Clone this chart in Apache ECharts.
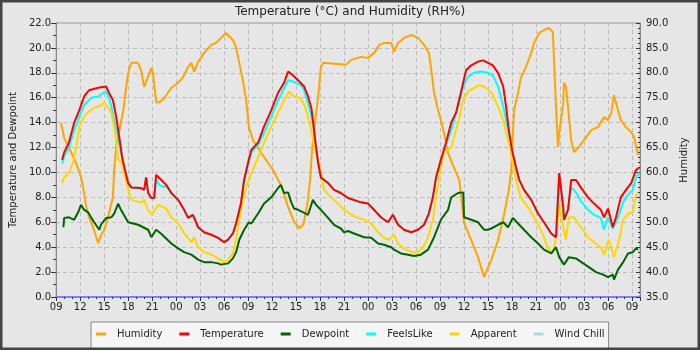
<!DOCTYPE html>
<html><head><meta charset="utf-8">
<script src="https://cdn.jsdelivr.net/npm/echarts@6/dist/echarts.min.js"></script>
<style>html,body{margin:0;padding:0;background:#e6e6e6}#c{width:700px;height:350px}</style>
</head><body><div id="c"></div><script>
// hours since 09:00 on day 1
const startHour = 9;
const titleText = 'Temperature (°C) and Humidity (RH%)';
const leftAxisName = 'Temperature and Dewpoint';
const rightAxisName = 'Humidity';
const seriesNames = ['Humidity','Temperature','Dewpoint','FeelsLike','Apparent','Wind Chill'];
const seriesColors = ['#ffa500','#ff0000','#006400','#00ffff','#ffd700','#add8e6'];

const humidity = [[0.6,70.0],[1.0,67.0],[2.5,61.9],[3.1,59.1],[3.5,55.9],[3.75,53.1],[4.1,51.1],[4.6,49.1],[5.25,45.8],[5.6,47.4],[6.0,48.4],[6.5,51.1],[7.1,55.1],[7.25,60.5],[7.5,65.1],[7.9,68.5],[8.4,72.5],[8.75,77.2],[9.1,80.6],[9.4,82.0],[10.25,82.0],[10.6,80.6],[11.0,77.2],[11.25,78.2],[11.9,81.0],[12.1,80.0],[12.5,74.1],[12.9,74.1],[13.5,74.9],[14.4,77.0],[15.25,78.0],[15.9,79.2],[16.5,81.2],[16.9,82.0],[17.25,80.2],[17.75,82.2],[18.5,84.0],[19.4,85.6],[20.0,86.0],[20.6,87.0],[21.25,88.0],[22.1,86.6],[22.5,85.0],[22.9,82.0],[23.4,78.0],[23.75,74.5],[24.1,69.1],[24.6,66.5],[25.4,64.5],[26.25,62.5],[27.1,60.5],[28.1,57.5],[29.0,53.1],[29.75,50.1],[30.4,48.8],[30.9,49.5],[31.4,53.5],[31.75,58.5],[32.0,64.5],[32.25,68.5],[32.75,75.1],[33.1,81.2],[33.4,82.0],[36.25,81.6],[36.9,82.6],[38.1,83.2],[39.0,83.0],[39.75,84.0],[40.4,85.6],[41.0,86.0],[41.9,86.0],[42.25,84.2],[42.75,86.0],[43.5,87.0],[44.4,87.6],[45.25,87.0],[46.0,85.6],[46.6,84.0],[46.9,80.6],[47.25,76.0],[47.75,72.5],[48.1,70.5],[48.5,67.9],[49.0,63.9],[49.6,61.5],[50.4,58.5],[51.0,49.9],[51.9,46.4],[52.75,43.0],[53.5,39.0],[54.4,42.4],[55.25,46.4],[56.0,51.5],[56.6,56.5],[56.9,60.5],[57.25,72.5],[57.75,76.0],[58.1,79.0],[58.75,81.2],[59.4,84.0],[59.75,86.0],[60.4,88.0],[61.0,88.6],[61.6,89.0],[62.1,88.2],[62.5,73.1],[62.75,65.1],[62.9,67.9],[63.4,73.9],[63.5,78.0],[63.75,77.2],[64.0,73.1],[64.4,66.5],[64.75,64.1],[65.25,64.9],[66.0,66.5],[66.9,68.5],[67.75,69.1],[68.5,71.1],[69.0,70.5],[69.4,71.9],[69.75,75.5],[70.25,72.5],[70.6,70.5],[71.25,69.1],[71.9,68.1],[72.25,67.1],[72.75,63.5]];

const temperature = [[0.75,11.0],[1.0,11.6],[1.6,12.4],[2.25,14.0],[2.9,15.0],[3.5,16.1],[4.1,16.6],[5.25,16.8],[6.25,16.9],[6.6,16.4],[7.1,15.8],[7.5,14.5],[7.9,12.8],[8.25,11.2],[8.6,10.2],[9.0,9.15],[9.4,8.8],[10.6,8.75],[11.0,8.6],[11.25,9.6],[11.5,8.35],[11.9,7.95],[12.25,7.95],[12.5,9.8],[12.9,9.55],[13.75,9.0],[14.4,8.35],[15.25,7.8],[16.0,7.0],[16.5,6.35],[17.1,6.6],[17.75,5.6],[18.5,5.2],[19.4,5.0],[20.25,4.75],[21.0,4.4],[21.5,4.6],[22.1,5.1],[22.5,5.9],[23.1,7.5],[23.5,9.4],[24.0,10.8],[24.4,11.8],[25.25,12.4],[26.0,13.7],[26.9,15.0],[27.75,16.4],[28.5,17.2],[29.0,18.1],[29.6,17.8],[30.4,17.3],[31.0,16.9],[31.5,16.1],[31.9,15.2],[32.25,13.4],[32.5,12.0],[32.75,10.8],[33.1,9.6],[34.0,9.15],[34.75,8.6],[35.6,8.35],[36.5,7.95],[38.1,7.6],[39.0,7.5],[39.75,7.0],[40.6,6.4],[41.5,6.0],[42.1,6.6],[42.75,5.8],[43.5,5.4],[44.4,5.2],[45.25,5.4],[46.0,5.8],[46.6,6.7],[47.1,8.0],[47.5,9.6],[48.1,11.0],[48.75,12.4],[49.4,14.0],[50.0,14.8],[50.6,16.4],[51.25,18.2],[51.9,18.6],[52.75,18.9],[53.4,19.0],[54.0,18.8],[54.6,18.6],[55.25,18.0],[55.9,16.9],[56.25,15.3],[56.6,13.4],[57.0,11.8],[57.5,10.4],[57.9,9.4],[58.5,8.6],[59.4,7.8],[60.25,6.7],[61.0,6.0],[61.9,5.1],[62.5,4.8],[62.75,8.0],[62.9,9.95],[63.4,7.2],[63.5,6.2],[64.0,7.0],[64.4,9.4],[65.0,9.4],[65.6,8.8],[66.5,8.0],[67.25,7.5],[68.1,7.0],[68.5,6.4],[69.0,7.1],[69.6,5.6],[70.0,6.4],[70.6,8.0],[71.25,8.6],[71.9,9.15],[72.5,10.2],[72.9,10.4]];

const dewpoint = [[0.9,5.6],[1.0,6.35],[1.6,6.4],[2.25,6.2],[2.75,6.8],[3.1,7.4],[3.5,7.0],[4.0,6.8],[4.4,6.35],[4.75,6.0],[5.4,5.4],[5.6,5.8],[6.25,6.35],[6.9,6.4],[7.25,6.7],[7.75,7.5],[8.1,7.0],[9.0,6.0],[10.25,5.8],[11.5,5.4],[11.9,4.8],[12.5,5.4],[13.1,5.1],[14.4,4.3],[15.25,3.9],[16.0,3.6],[16.9,3.4],[17.75,3.0],[18.5,2.8],[19.4,2.8],[20.25,2.7],[20.6,2.6],[21.5,2.7],[22.1,3.1],[22.5,3.6],[22.9,4.6],[23.5,5.4],[24.1,6.0],[24.4,5.9],[25.25,6.7],[26.0,7.5],[26.9,8.0],[27.75,8.75],[28.1,9.0],[28.5,8.35],[29.0,8.4],[29.4,7.6],[29.75,7.1],[30.25,7.0],[30.9,6.8],[31.5,6.6],[32.1,7.8],[32.5,7.4],[33.1,7.0],[34.0,6.35],[34.75,5.8],[35.6,5.5],[36.0,5.2],[36.5,5.3],[37.25,5.1],[38.5,4.8],[39.4,4.75],[40.25,4.3],[41.0,4.2],[41.9,4.0],[42.25,3.8],[43.1,3.5],[44.0,3.4],[44.75,3.3],[45.6,3.4],[46.5,3.8],[47.25,4.8],[48.1,6.2],[49.0,7.0],[49.4,8.0],[50.25,8.35],[50.9,8.4],[51.0,6.4],[51.9,6.2],[52.75,6.0],[53.5,5.4],[54.0,5.4],[54.4,5.5],[55.25,5.8],[55.9,6.0],[56.5,5.6],[57.1,6.35],[57.75,5.9],[58.5,5.4],[59.4,4.8],[60.25,4.3],[61.0,3.8],[61.9,3.5],[62.5,4.0],[62.9,3.2],[63.5,2.6],[64.1,3.2],[65.0,3.1],[65.9,2.7],[66.6,2.4],[67.5,2.0],[68.4,1.8],[69.0,1.6],[69.6,1.8],[69.75,1.4],[70.25,2.2],[70.9,2.8],[71.5,3.5],[72.1,3.6],[72.5,3.9],[72.75,3.8]];

const feelsLike = [[0.75,10.7],[1.0,11.3],[1.6,12.0],[2.25,13.4],[2.9,14.5],[3.5,15.4],[4.4,16.0],[5.25,16.1],[5.9,16.4],[6.25,16.5],[6.6,16.0],[6.9,15.3],[7.25,14.2],[7.75,12.8],[8.25,11.2],[8.6,10.2],[9.0,9.15],[9.4,8.8],[10.6,8.75],[11.0,8.6],[11.25,9.6],[11.5,8.35],[11.9,7.95],[12.25,7.95],[12.5,9.4],[12.9,9.0],[13.5,8.8],[13.75,9.0],[14.4,8.35],[15.25,7.8],[16.0,7.0],[16.5,6.35],[17.1,6.6],[17.75,5.6],[18.5,5.2],[19.4,5.0],[20.25,4.75],[21.0,4.4],[21.5,4.6],[22.1,5.1],[22.5,5.9],[23.1,7.5],[23.5,9.4],[24.0,10.6],[24.4,11.6],[25.25,12.2],[26.0,13.2],[26.9,14.5],[27.75,15.8],[29.0,17.4],[29.6,17.3],[30.6,17.0],[31.0,16.6],[31.6,15.3],[32.1,14.0],[32.5,12.0],[32.75,10.8],[33.1,9.6],[34.0,9.15],[34.75,8.6],[35.6,8.35],[36.5,7.95],[38.1,7.6],[39.0,7.5],[39.75,7.0],[40.6,6.4],[41.5,6.0],[42.1,6.6],[42.75,5.8],[43.5,5.4],[44.4,5.2],[45.25,5.4],[46.0,5.8],[46.6,6.7],[47.1,8.0],[47.5,9.6],[48.1,11.0],[48.75,12.2],[49.4,13.4],[50.25,15.3],[50.9,16.9],[51.5,17.7],[52.25,18.0],[53.1,18.1],[54.0,18.0],[54.6,17.8],[55.25,16.9],[55.6,16.1],[56.0,15.0],[56.5,13.4],[57.0,11.8],[57.5,10.4],[57.9,9.4],[58.5,8.6],[59.4,7.8],[60.25,6.7],[61.0,6.0],[61.9,5.1],[62.5,4.8],[62.75,8.0],[62.9,9.95],[63.4,7.2],[63.5,6.2],[64.0,7.0],[64.4,8.8],[65.0,8.4],[65.6,7.7],[66.5,7.0],[67.25,6.6],[68.1,6.35],[68.5,5.4],[69.0,6.4],[69.6,5.5],[70.25,6.4],[70.9,7.6],[71.5,8.2],[72.1,8.6],[72.5,9.6],[72.9,10.0]];

const apparent = [[0.75,9.15],[1.0,9.6],[1.6,9.95],[2.1,10.8],[2.5,12.0],[2.9,13.7],[3.5,14.5],[4.1,14.9],[4.75,15.2],[5.6,15.4],[6.0,15.6],[6.5,15.2],[6.9,14.8],[7.25,13.7],[7.5,12.6],[7.75,11.0],[8.1,10.9],[8.5,9.95],[9.1,8.4],[9.4,7.8],[10.6,7.6],[11.0,7.8],[11.5,7.0],[11.9,6.6],[12.25,6.9],[12.75,7.4],[13.75,7.1],[14.4,6.4],[15.25,5.9],[16.0,5.1],[16.9,4.4],[17.25,4.8],[17.75,4.0],[18.5,3.6],[19.4,3.4],[20.25,3.1],[21.0,2.8],[21.5,3.0],[22.1,3.5],[22.5,4.6],[23.1,7.0],[23.75,8.8],[24.4,9.95],[25.25,11.2],[26.0,12.4],[26.9,13.7],[27.75,14.8],[28.5,15.8],[29.1,16.5],[29.75,16.1],[30.4,16.0],[30.9,15.6],[31.25,15.0],[31.6,14.2],[31.9,13.4],[32.25,12.2],[32.6,11.4],[33.1,9.95],[33.5,8.6],[34.4,8.0],[35.25,7.5],[36.0,7.0],[36.9,6.6],[37.75,6.35],[38.5,6.2],[39.4,5.9],[40.25,5.2],[41.0,4.75],[41.6,4.6],[42.25,5.0],[42.75,4.3],[43.5,3.9],[44.4,3.6],[45.25,3.6],[45.9,4.0],[46.5,4.8],[47.1,6.2],[47.5,8.0],[48.1,10.4],[48.5,11.6],[49.4,12.0],[50.25,14.0],[50.9,15.8],[51.5,16.5],[52.25,16.8],[52.9,17.0],[53.5,16.9],[54.1,16.6],[54.6,16.2],[55.25,15.3],[55.9,14.2],[56.25,13.2],[56.75,12.0],[57.0,11.0],[57.5,9.4],[58.1,8.0],[59.0,7.2],[59.75,6.4],[60.6,5.4],[61.5,3.9],[62.1,3.5],[62.5,4.8],[62.9,7.5],[63.4,5.6],[63.75,4.6],[64.1,6.4],[64.75,6.4],[65.6,5.6],[66.5,4.8],[67.25,4.4],[68.1,4.0],[68.5,3.4],[69.1,4.6],[69.75,3.2],[70.4,4.6],[70.9,6.2],[71.5,6.7],[72.1,6.8],[72.5,8.2],[72.75,8.35]];

const windChill = [];

const xMax = 73, xStep = 3;
const tempMin = 0, tempMax = 22, tempStep = 2;
const humMin = 35, humMax = 90, humStep = 5;

const font = 'DejaVu Sans';
const chart = echarts.init(document.getElementById('c'));
const seriesData = [humidity, temperature, dewpoint, feelsLike, apparent, windChill];
const zOrder = [2, 6, 5, 3, 4, 2];
const pad = n => (n < 10 ? '0' : '') + n;

chart.setOption({
  animation: false,
  backgroundColor: '#e6e6e6',
  title: {text: titleText, left: 'center', top: 1,
    textStyle: {fontFamily: font, fontSize: 12, fontWeight: 'normal', color: '#222'}},
  grid: {left: 55, right: 60, top: 23, bottom: 53, show: true, backgroundColor: '#e6e6e6', borderColor: '#999', borderWidth: 1},
  legend: {
    left: 91, top: 322, padding: [7, 4, 10, 5], itemGap: 17, itemWidth: 10, itemHeight: 3, icon: 'rect',
    backgroundColor: '#f5f5f5', borderColor: '#888', borderWidth: 1,
    textStyle: {fontFamily: font, fontSize: 10, color: '#222', padding: [0, 0, 0, 6]},
    data: seriesNames
  },
  xAxis: {
    type: 'value', min: 0, max: xMax, interval: xStep,
    axisLine: {lineStyle: {color: '#7f7fef', width: 2}},
    axisTick: {length: 4, lineStyle: {color: '#333'}},
    minorTick: {show: true, splitNumber: 3, length: 2, lineStyle: {color: '#333'}},
    axisLabel: {fontFamily: font, fontSize: 10, color: '#222', margin: 5, showMaxLabel: false,
      formatter: v => (v % xStep === 0) ? pad((startHour + v) % 24) : ''},
    splitLine: {show: true, lineStyle: {color: '#bdbdbd', type: [4, 3]}}
  },
  yAxis: [{
    type: 'value', min: tempMin, max: tempMax, interval: tempStep, position: 'left',
    name: leftAxisName, nameLocation: 'middle', nameGap: 38, nameRotate: 90,
    nameTextStyle: {fontFamily: font, fontSize: 10, color: '#222'},
    axisLine: {show: true, lineStyle: {color: '#888'}},
    axisTick: {show: true, length: 5, lineStyle: {color: '#333'}},
    minorTick: {show: true, splitNumber: 2, length: 3, lineStyle: {color: '#333'}},
    axisLabel: {fontFamily: font, fontSize: 10, color: '#222', margin: 5, formatter: v => v.toFixed(1)},
    splitLine: {show: true, lineStyle: {color: '#bdbdbd', type: [4, 3]}}
  }, {
    type: 'value', min: humMin, max: humMax, interval: humStep, position: 'right',
    name: rightAxisName, nameLocation: 'middle', nameGap: 38, nameRotate: 90,
    nameTextStyle: {fontFamily: font, fontSize: 10, color: '#222'},
    axisLine: {show: true, lineStyle: {color: '#888'}},
    axisTick: {show: true, inside: true, length: 4, lineStyle: {color: '#333'}},
    minorTick: {show: true, splitNumber: 5, length: 2, lineStyle: {color: '#333'}},
    axisLabel: {fontFamily: font, fontSize: 10, color: '#222', margin: 6, formatter: v => v.toFixed(1)},
    splitLine: {show: false}
  }],
  graphic: [{type: 'rect', shape: {x: 1, y: 1, width: 698, height: 348}, z: 100,
    style: {fill: 'none', stroke: '#444', lineWidth: 3}}],
  series: seriesNames.map((n, i) => ({
    name: n, type: 'line', yAxisIndex: i === 0 ? 1 : 0, data: seriesData[i],
    showSymbol: false, symbol: 'none', z: zOrder[i], color: seriesColors[i],
    lineStyle: {width: 2, color: seriesColors[i]}
  }))
});
</script></body></html>
